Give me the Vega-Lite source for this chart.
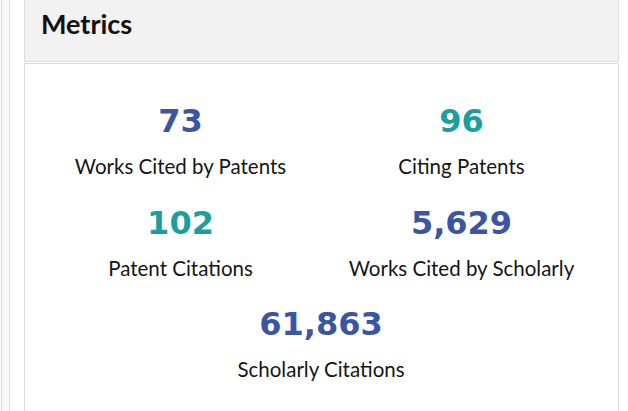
{
  "$schema": "https://vega.github.io/schema/vega-lite/v6.json",
  "padding": {"left": 0, "top": -2, "right": 0, "bottom": 0},
  "background": "#ffffff",
  "config": {"font": "Lato", "view": {"stroke": "#dddddd"}},
  "datasets": {
    "header": [{"label": "Metrics"}],
    "metrics": [
      {"metric": "Works Cited by Patents", "value": 73, "col": "left", "row": 1, "tone": "primary"},
      {"metric": "Citing Patents", "value": 96, "col": "right", "row": 1, "tone": "accent"},
      {"metric": "Patent Citations", "value": 102, "col": "left", "row": 2, "tone": "accent"},
      {"metric": "Works Cited by Scholarly", "value": 5629, "col": "right", "row": 2, "tone": "primary"},
      {"metric": "Scholarly Citations", "value": 61863, "col": "center", "row": 3, "tone": "primary"}
    ]
  },
  "spacing": 13,
  "hconcat": [
    {
      "width": 8,
      "height": 430,
      "view": {"fill": "#f8f8f8", "stroke": "#dddddd"},
      "data": {"values": []},
      "mark": "point"
    },
    {
      "spacing": 0,
      "vconcat": [
        {
          "width": 594,
          "height": 62,
          "view": {"fill": "#f2f2f2", "stroke": "#dddddd"},
          "data": {"name": "header"},
          "mark": {"type": "text", "fontSize": 27, "fontWeight": "bold", "color": "#111111", "baseline": "alphabetic", "align": "left"},
          "encoding": {
            "x": {"field": "label", "type": "nominal", "scale": {"type": "point", "padding": 0, "align": 0.0286}, "axis": null},
            "y": {"field": "label", "type": "nominal", "scale": {"type": "point", "padding": 0, "align": 0.5645}, "axis": null},
            "text": {"field": "label", "type": "nominal"}
          }
        },
        {
          "width": 594,
          "height": 360,
          "view": {"fill": "#ffffff", "stroke": "#dddddd"},
          "data": {"name": "metrics"},
          "encoding": {
            "x": {"field": "col", "type": "nominal", "bandPosition": 0.5, "scale": {"type": "band", "domain": ["left", "center", "right"], "paddingInner": 0, "paddingOuter": 0.614}, "axis": null},
            "y": {"field": "row", "type": "ordinal", "scale": {"type": "point", "domain": [1, 2, 3], "padding": 0.773, "align": 0.44}, "axis": null}
          },
          "layer": [
            {
              "mark": {"type": "text", "font": "DejaVu Sans", "fontSize": 32, "fontWeight": "bold", "baseline": "alphabetic", "align": "center"},
              "encoding": {
                "text": {"field": "value", "type": "quantitative", "format": ","},
                "color": {"field": "tone", "type": "nominal", "scale": {"domain": ["primary", "accent"], "range": ["#3b55a3", "#1c9e9f"]}, "legend": null}
              }
            },
            {
              "mark": {"type": "text", "fontSize": 20.5, "baseline": "alphabetic", "align": "center", "dy": 42, "color": "#151515"},
              "encoding": {
                "text": {"field": "metric", "type": "nominal"}
              }
            }
          ]
        }
      ]
    }
  ]
}
